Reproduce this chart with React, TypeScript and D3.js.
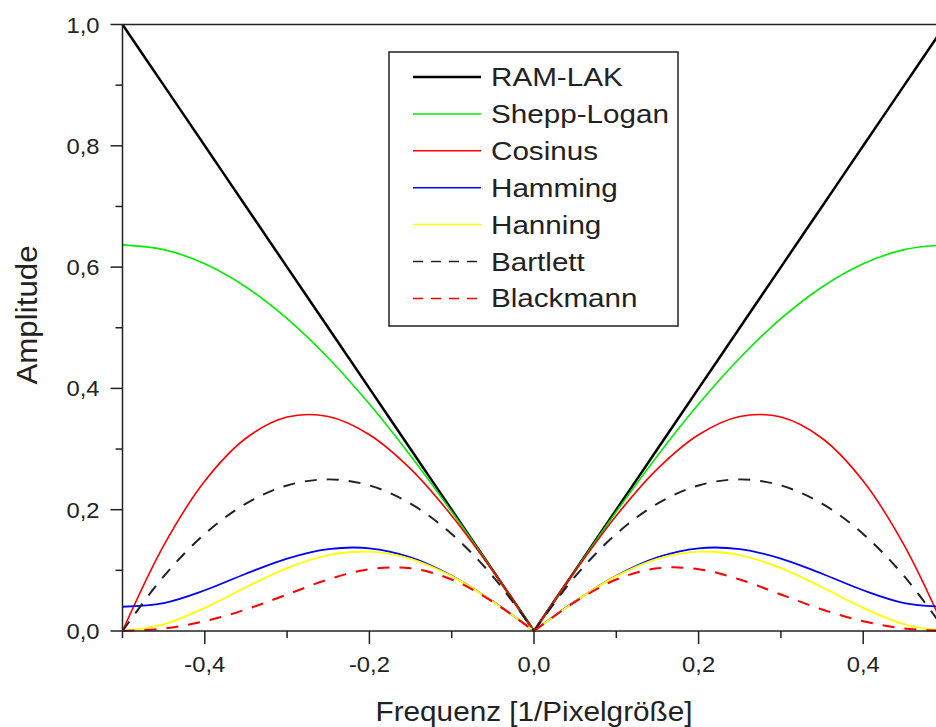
import React from "react";
import * as d3 from "d3";

const freq = [-0.5, -0.45, -0.4, -0.35, -0.3, -0.25, -0.2, -0.15, -0.1, -0.05, 0, 0.05, 0.1, 0.15, 0.2, 0.25, 0.3, 0.35, 0.4, 0.45, 0.5];

const ramLak = [1.0, 0.9, 0.8, 0.7, 0.6, 0.5, 0.4, 0.3, 0.2, 0.1, 0, 0.1, 0.2, 0.3, 0.4, 0.5, 0.6, 0.7, 0.8, 0.9, 1.0];
const sheppLogan = [0.6366, 0.6288, 0.6055, 0.5672, 0.515, 0.4502, 0.3742, 0.289, 0.1967, 0.0996, 0, 0.0996, 0.1967, 0.289, 0.3742, 0.4502, 0.515, 0.5672, 0.6055, 0.6288, 0.6366];
const cosinus = [0, 0.1408, 0.2472, 0.3178, 0.3527, 0.3536, 0.3236, 0.2673, 0.1902, 0.0988, 0, 0.0988, 0.1902, 0.2673, 0.3236, 0.3536, 0.3527, 0.3178, 0.2472, 0.1408, 0];
const hamming = [0.04, 0.0461, 0.0672, 0.0944, 0.1194, 0.135, 0.1364, 0.1216, 0.0912, 0.0489, 0, 0.0489, 0.0912, 0.1216, 0.1364, 0.135, 0.1194, 0.0944, 0.0672, 0.0461, 0.04];
const hanning = [0, 0.011, 0.0382, 0.0721, 0.1037, 0.125, 0.1309, 0.1191, 0.0905, 0.0488, 0, 0.0488, 0.0905, 0.1191, 0.1309, 0.125, 0.1037, 0.0721, 0.0382, 0.011, 0];
const bartlett = [0, 0.09, 0.16, 0.21, 0.24, 0.25, 0.24, 0.21, 0.16, 0.09, 0, 0.09, 0.16, 0.21, 0.24, 0.25, 0.24, 0.21, 0.16, 0.09, 0];
const blackmann = [0, 0.0041, 0.0161, 0.0355, 0.0602, 0.085, 0.102, 0.1034, 0.0849, 0.048, 0, 0.048, 0.0849, 0.1034, 0.102, 0.085, 0.0602, 0.0355, 0.0161, 0.0041, 0];

const seriesNames = ["RAM-LAK", "Shepp-Logan", "Cosinus", "Hamming", "Hanning", "Bartlett", "Blackmann"];
const seriesValues = [ramLak, sheppLogan, cosinus, hamming, hanning, bartlett, blackmann];
const seriesColors = ["#000000", "#00ee00", "#ff0000", "#0000ff", "#ffff00", "#222222", "#ff0000"];
const seriesWidths = [2.5, 1.6, 1.6, 1.8, 1.8, 2, 2];
const seriesDash = [null, null, null, null, null, "12,10", "12,10"];

const xMajor = [-0.4, -0.2, 0, 0.2, 0.4];
const xMinor = [-0.5, -0.3, -0.1, 0.1, 0.3, 0.5];
const yMajor = [0, 0.2, 0.4, 0.6, 0.8, 1.0];
const yMinor = [0.1, 0.3, 0.5, 0.7, 0.9];

const fmt = (v: number) => d3.format(".1f")(v).replace(".", ",").replace("−", "-");

export default function App() {
  const W = 936, H = 727;
  const x = d3.scaleLinear().domain([-0.5, 0.5]).range([122.5, 945.5]);
  const y = d3.scaleLinear().domain([0, 1]).range([631, 24.5]);
  const axisColor = "#222";
  const font = "'Liberation Sans', Arial, Helvetica, sans-serif";

  const halfPath = (vals: number[], side: number) => {
    const pts: [number, number][] = [];
    freq.forEach((f, i) => {
      if ((side < 0 && f <= 0) || (side > 0 && f >= 0)) pts.push([f, vals[i]]);
    });
    return d3.line<[number, number]>()
      .x(d => x(d[0]))
      .y(d => y(d[1]))
      .curve(d3.curveCatmullRom.alpha(0.5))(pts) || "";
  };

  const legX0 = 389, legY0 = 52, legX1 = 678, legY1 = 326;
  const rowY = (i: number) => 77 + i * 36.9;

  return (
    <svg width={W} height={H} style={{ position: "absolute", left: 0, top: 0, background: "#fff" }} fontFamily={font}>
      <rect x={0} y={0} width={W} height={H} fill="#fff" />
      {/* curves */}
      <g>
        {seriesValues.map((vals, si) => (
          <g key={si}>
            {[-1, 1].map(side => (
              <path key={side} d={halfPath(vals, side)} fill="none" stroke={seriesColors[si]}
                strokeWidth={seriesWidths[si]} strokeDasharray={seriesDash[si] || undefined} />
            ))}
          </g>
        ))}
      </g>
      {/* axes */}
      <line x1={x(-0.5)} x2={W + 20} y1={y(1)} y2={y(1)} stroke={axisColor} strokeWidth={1.5} />
      <line x1={x(-0.5)} x2={W + 20} y1={y(0)} y2={y(0)} stroke={axisColor} strokeWidth={1.5} />
      <line x1={x(-0.5)} x2={x(-0.5)} y1={y(1)} y2={y(0)} stroke={axisColor} strokeWidth={1.5} />
      {yMajor.map(v => (
        <g key={"ym" + v}>
          <line x1={x(-0.5) - 12} x2={x(-0.5)} y1={y(v)} y2={y(v)} stroke={axisColor} strokeWidth={1.5} />
          <text transform={`translate(${x(-0.5) - 23},${y(v) + 8}) scale(1.08,1)`} textAnchor="end" fontSize={22} fill="#222">{fmt(v)}</text>
        </g>
      ))}
      {yMinor.map(v => (
        <line key={"yn" + v} x1={x(-0.5) - 7} x2={x(-0.5)} y1={y(v)} y2={y(v)} stroke={axisColor} strokeWidth={1.5} />
      ))}
      {xMajor.map(v => (
        <g key={"xm" + v}>
          <line x1={x(v)} x2={x(v)} y1={y(0)} y2={y(0) + 13} stroke={axisColor} strokeWidth={1.5} />
          <text transform={`translate(${x(v)},${y(0) + 41}) scale(1.08,1)`} textAnchor="middle" fontSize={22} fill="#222">{fmt(v)}</text>
        </g>
      ))}
      {xMinor.map(v => (
        <line key={"xn" + v} x1={x(v)} x2={x(v)} y1={y(0)} y2={y(0) + 7} stroke={axisColor} strokeWidth={1.5} />
      ))}
      {/* axis titles */}
      <text transform={`translate(534,721) scale(1.1,1)`} textAnchor="middle" fontSize={27} fill="#222">Frequenz [1/Pixelgröße]</text>
      <text transform={`translate(37,315) rotate(-90) scale(1.08,1)`} textAnchor="middle" fontSize={29} fill="#222">Amplitude</text>
      {/* legend */}
      <rect x={legX0} y={legY0} width={legX1 - legX0} height={legY1 - legY0} fill="#fff" stroke={axisColor} strokeWidth={1.5} />
      {seriesNames.map((name, i) => (
        <g key={name}>
          <line x1={413} x2={481} y1={rowY(i)} y2={rowY(i)} stroke={seriesColors[i]} strokeWidth={i === 0 ? 2.5 : 1.5}
            strokeDasharray={seriesDash[i] ? "10,8" : undefined} />
          <text transform={`translate(491,${rowY(i) + 9}) scale(1.14,1)`} fontSize={26} fill="#222">{name}</text>
        </g>
      ))}
    </svg>
  );
}
